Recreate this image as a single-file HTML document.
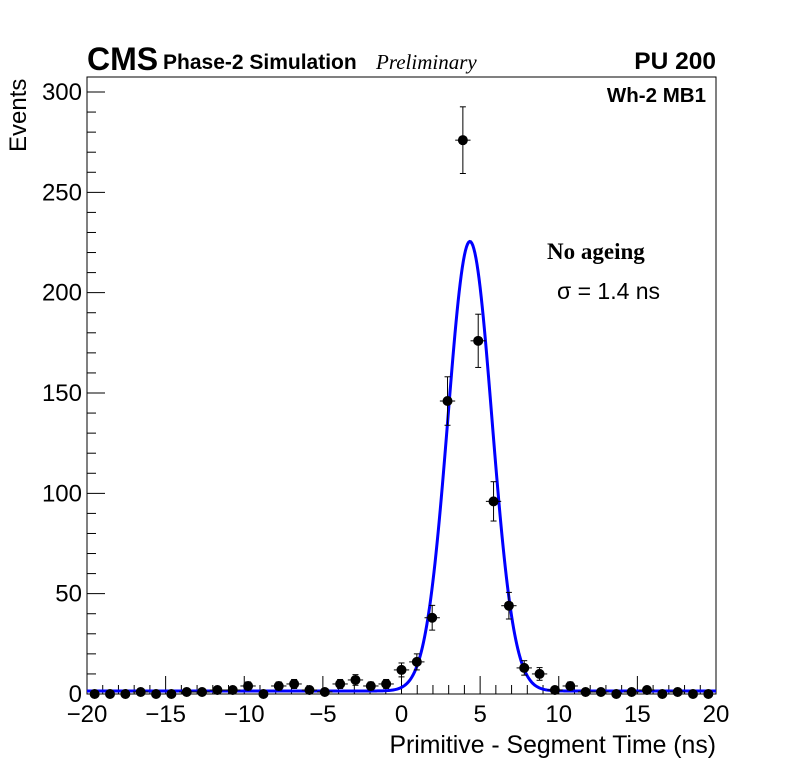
<!DOCTYPE html>
<html><head><meta charset="utf-8"><style>
body{margin:0;background:#fff}
svg text{font-family:"Liberation Sans",sans-serif}
</style></head><body>
<svg id="c" width="796" height="772" xmlns="http://www.w3.org/2000/svg">
<text x="87" y="70" font-size="32" font-weight="bold">CMS</text>
<text x="163" y="69" font-size="21" font-weight="bold">Phase-2 Simulation</text>
<text x="376" y="69" font-size="21" font-style="italic" style="font-family:'Liberation Serif',serif">Preliminary</text>
<text x="716" y="69" font-size="24.5" font-weight="bold" text-anchor="end">PU 200</text>
<text x="706" y="102" font-size="20.5" font-weight="bold" text-anchor="end">Wh-2 MB1</text>
<text x="547" y="259" font-size="23" font-weight="bold" style="font-family:'Liberation Serif',serif">No ageing</text>
<text x="557" y="299" font-size="23">σ = 1.4 ns</text>
<text transform="translate(26,152) rotate(-90)" font-size="24">Events</text>
<text x="716" y="753" font-size="24.8" text-anchor="end">Primitive - Segment Time (ns)</text>
<g id="axes"></g><g id="marks"></g>
</svg>
<script>
const yValues=[0,0,0,1,0,0,1,1,2,2,4,0,4,5,2,1,5,7,4,5,12,16,38,146,276,176,96,44,13,10,2,4,1,1,0,1,2,0,1,0,0];
const xTicks=[-20,-15,-10,-5,0,5,10,15,20];
const yTicks=[0,50,100,150,200,250,300];
const fitAmp=[224];const fitMean=[4.35];const fitSigma=[1.4];const fitConst=[1.5];
const X0=87,X1=716,Y0=694,Y1=92,L=77;
const xs=v=>X0+(v+20)/40*(X1-X0);
const ys=v=>Y0-v/300*(Y0-Y1);
const NS="http://www.w3.org/2000/svg";
function mk(t,a,p){const e=document.createElementNS(NS,t);for(const k in a)e.setAttribute(k,a[k]);p.appendChild(e);return e;}
const ax=document.getElementById('axes'),mg=document.getElementById('marks');
const fr=mk('rect',{x:X0,y:L,width:X1-X0,height:Y0-L,fill:'none',stroke:'#000','stroke-width':1},ax);


for(let v=-20;v<=20;v++){const maj=v%5===0;mk('line',{x1:xs(v),x2:xs(v),y1:Y0,y2:Y0-(maj?18:9),stroke:'#000'},ax);}
for(let v=0;v<=300;v+=10){const maj=v%50===0;mk('line',{x1:X0,x2:X0+(maj?18:9),y1:ys(v),y2:ys(v),stroke:'#000'},ax);}
xTicks.forEach(v=>{const t=mk('text',{x:xs(v),y:Y0+28,'font-size':24,'text-anchor':'middle'},ax);t.textContent=v<0?'\u2212'+(-v):v;

});
yTicks.forEach(v=>{const t=mk('text',{x:X0-5,y:ys(v)+8,'font-size':24,'text-anchor':'end'},ax);t.textContent=v;

});
let d='';for(let i=0;i<=600;i++){const x=-20+40*i/600;const y=fitAmp[0]*Math.exp(-0.5*Math.pow((x-fitMean[0])/fitSigma[0],2))+fitConst[0];d+=(i?'L':'M')+xs(x).toFixed(2)+','+ys(y).toFixed(2);}
const fc=mk('path',{d:d,fill:'none',stroke:'#0000ff','stroke-width':3},mg);


const n=yValues.length,bw=40/n;
yValues.forEach((v,i)=>{const c=-20+(i+0.5)*bw;const cx=xs(c),cy=ys(v);const e=Math.sqrt(v);
const g=mk('g',{},mg);


mk('line',{x1:xs(c-bw/2),x2:xs(c+bw/2),y1:cy,y2:cy,stroke:'#000'},g);
if(v>0){mk('line',{x1:cx,x2:cx,y1:ys(v+e),y2:ys(v-e),stroke:'#000'},g);
mk('line',{x1:cx-3,x2:cx+3,y1:ys(v+e),y2:ys(v+e),stroke:'#000'},g);
mk('line',{x1:cx-3,x2:cx+3,y1:ys(v-e),y2:ys(v-e),stroke:'#000'},g);}
mk('circle',{cx:cx,cy:cy,r:5,fill:'#000'},g);});
</script>
</body></html>
